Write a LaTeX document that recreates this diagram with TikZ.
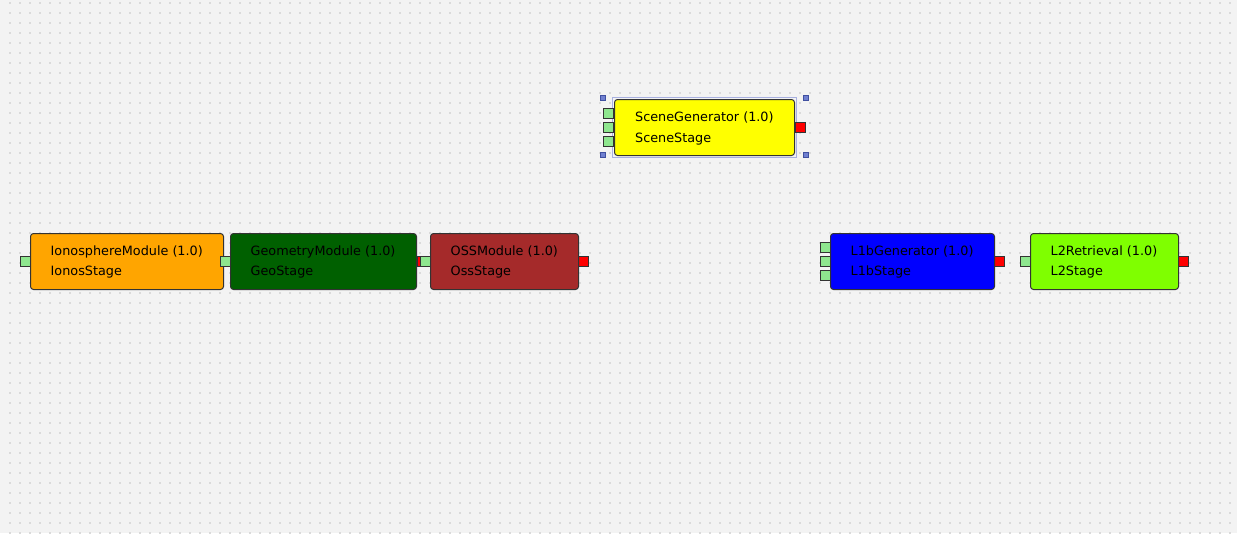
\documentclass[tikz,border=0pt]{standalone}
\usepackage{fontspec}
\setmainfont{DejaVu Sans}
\definecolor{bg}{HTML}{F3F3F3}
\definecolor{dotc}{HTML}{DADADA}
\definecolor{edge}{HTML}{333333}
\definecolor{inc}{HTML}{8EE68E}
\definecolor{outc}{HTML}{FF0000}
\definecolor{ionoc}{HTML}{FFA500}
\definecolor{geoc}{HTML}{006000}
\definecolor{ossc}{HTML}{A52A2A}
\definecolor{l1bc}{HTML}{0000FF}
\definecolor{l2c}{HTML}{7FFF00}
\definecolor{scenec}{HTML}{FFFF00}
\definecolor{selc}{HTML}{A8B0E0}
\definecolor{handlec}{HTML}{7080D0}
\definecolor{handleb}{HTML}{4050A0}
\begin{document}
\begin{tikzpicture}[x=1pt,y=-1pt,
  module/.style={draw=edge, line width=1pt, rounded corners=3pt, anchor=north west, inner sep=0pt, minimum height=56pt},
  inport/.style={draw=edge, line width=0.8pt, fill=inc, minimum size=10pt, inner sep=0pt},
  outport/.style={draw=edge, line width=0.8pt, fill=outc, minimum size=10pt, inner sep=0pt},
  lbl/.style={anchor=base west, inner sep=0pt, font=\fontsize{12.8}{15}\selectfont, text=black},
  handle/.style={draw=handleb, line width=0.6pt, fill=handlec, minimum size=5pt, inner sep=0pt}
]
\fill[bg] (0,0) rectangle (1237,533);
\useasboundingbox (0,0) rectangle (1237,533);
\foreach \j in {0,...,53} {
  \draw[dotc, line width=2pt, dash pattern=on 2pt off 8pt] (9,10*\j+3) -- (1237,10*\j+3);
}

% SceneGenerator (selected)
\draw[selc, line width=1pt] (612,97) rectangle (796,157);
\node[handle] (h1) at (602.5,97.5) {};
\node[handle] (h2) at (805.5,97.5) {};
\node[handle] (h3) at (602.5,154.5) {};
\node[handle] (h4) at (805.5,154.5) {};
\node[inport] (sc-in1) at (608,113) {};
\node[inport] (sc-in2) at (608,127) {};
\node[inport] (sc-in3) at (608,141) {};
\node[outport] (sc-out) at (800,127) {};
\node[module, fill=scenec, minimum width=180pt] (scene) at (614,99) {};
\node[lbl] (sc-t1) at (635,121.5) {SceneGenerator (1.0)};
\node[lbl] (sc-t2) at (635,142) {SceneStage};

% IonosphereModule
\node[inport] (io-in) at (25,261) {};
\node[inport] (io-out) at (225,261) {};
\node[module, fill=ionoc, minimum width=193pt] (iono) at (30,233) {};
\node[lbl] (io-t1) at (50.5,255) {IonosphereModule (1.0)};
\node[lbl] (io-t2) at (50.5,275.5) {IonosStage};
\node[inport] (io-out2) at (225,261) {};

% GeometryModule
\node[outport] (ge-out) at (422,261) {};
\node[module, fill=geoc, minimum width=186pt] (geo) at (230,233) {};
\node[lbl] (ge-t1) at (250.5,255) {GeometryModule (1.0)};
\node[lbl] (ge-t2) at (250.5,275.5) {GeoStage};

% OSSModule
\node[inport] (os-in) at (425,261) {};
\node[outport] (os-out) at (583,261) {};
\node[module, fill=ossc, minimum width=148pt] (oss) at (430,233) {};
\node[lbl] (os-t1) at (450.5,255) {OSSModule (1.0)};
\node[lbl] (os-t2) at (450.5,275.5) {OssStage};

% L1bGenerator
\node[inport] (l1-in1) at (825,247) {};
\node[inport] (l1-in2) at (825,261) {};
\node[inport] (l1-in3) at (825,275) {};
\node[outport] (l1-out) at (999,261) {};
\node[module, fill=l1bc, minimum width=164pt] (l1b) at (830,233) {};
\node[lbl] (l1-t1) at (850.5,255) {L1bGenerator (1.0)};
\node[lbl] (l1-t2) at (850.5,275.5) {L1bStage};

% L2Retrieval
\node[inport] (l2-in) at (1025,261) {};
\node[outport] (l2-out) at (1183,261) {};
\node[module, fill=l2c, minimum width=148pt] (l2) at (1030,233) {};
\node[lbl] (l2-t1) at (1050.5,255) {L2Retrieval (1.0)};
\node[lbl] (l2-t2) at (1050.5,275.5) {L2Stage};
\end{tikzpicture}
\end{document}
